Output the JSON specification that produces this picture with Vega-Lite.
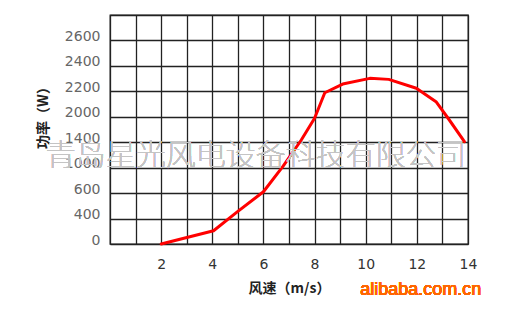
{
  "$schema": "https://vega.github.io/schema/vega-lite/v6.json",
  "width": 358,
  "height": 229,
  "autosize": {"type": "none"},
  "padding": {"left": 110, "top": 15, "right": 39, "bottom": 65},
  "background": "white",
  "config": {
    "view": {"stroke": "#222", "strokeWidth": 1.3},
    "axis": {"grid": true, "gridColor": "#222", "gridOpacity": 1, "gridWidth": 1.3, "domain": false, "ticks": false, "labelOverlap": false, "labelBound": false, "labelFlush": false, "tickCount": 40}
  },
  "data": {"values": [
    {"speed": 2, "power": 0},
    {"speed": 4.05, "power": 209},
    {"speed": 5, "power": 457},
    {"speed": 6, "power": 622},
    {"speed": 6.77, "power": 1024},
    {"speed": 7.48, "power": 1452},
    {"speed": 8.0, "power": 1964},
    {"speed": 8.4, "power": 2189},
    {"speed": 9.1, "power": 2257},
    {"speed": 10.16, "power": 2302},
    {"speed": 10.9, "power": 2294},
    {"speed": 11.98, "power": 2224},
    {"speed": 12.75, "power": 2119},
    {"speed": 13.27, "power": 1924},
    {"speed": 13.86, "power": 1412}
  ]},
  "layer": [
    {
      "mark": {"type": "line", "color": "#ff0000", "strokeWidth": 3, "strokeCap": "round", "strokeJoin": "round"},
      "encoding": {
        "x": {
          "field": "speed", "type": "quantitative",
          "scale": {"domain": [0, 14], "nice": false, "zero": false},
          "axis": {
            "values": [0,1,2,3,4,5,6,7,8,9,10,11,12,13,14],
            "tickCount": 40, "grid": true,
            "labelExpr": "datum.value % 2 == 0 && datum.value > 0 ? '' + datum.value : ''",
            "labelFont": "DejaVu Sans", "labelFontSize": 14, "labelColor": "#333",
            "labelPadding": 13,
            "title": "风速（m/s）",
            "titleFont": "Noto Sans CJK SC", "titleFontSize": 14, "titleFontWeight": "bold", "titleColor": "#222",
            "titlePadding": 10
          }
        },
        "y": {
          "field": "power", "type": "quantitative",
          "scale": {
            "domain": [0, 400, 600, 1000, 1400, 2000, 2200, 2400, 2600, 2800],
            "range": [229, 203.56, 178.11, 152.67, 127.22, 101.78, 76.33, 50.89, 25.44, 0],
            "nice": false, "zero": false
          },
          "axis": {
            "values": [0, 400, 600, 1000, 1400, 2000, 2200, 2400, 2600, 2800],
            "tickCount": 40, "grid": true,
            "labelExpr": "datum.value == 2800 ? '' : datum.value + ''",
            "labelFont": "DejaVu Sans", "labelFontSize": 14, "labelColor": "#666",
            "labelPadding": 10, "labelOffset": -4,
            "title": "功率（W）",
            "titleFont": "Noto Sans CJK SC", "titleFontSize": 14, "titleFontWeight": "bold", "titleColor": "#222",
            "titleX": -67, "titleY": 99, "titleAlign": "center", "titleBaseline": "middle", "titleAngle": -90
          }
        }
      }
    },
    {
      "mark": {"type": "text", "text": "青岛星光风电设备科技有限公司", "font": "Noto Sans CJK SC", "fontSize": 30, "fontWeight": 100, "fill": "#c4c4c4", "align": "center", "baseline": "middle"},
      "encoding": {"x": {"datum": 5.7}, "y": {"datum": 1180}}
    },
    {
      "mark": {"type": "text", "text": "alibaba.com.cn", "font": "Liberation Sans", "fontSize": 18, "fill": "#ff6600", "align": "center", "baseline": "middle"},
      "encoding": {"x": {"datum": 12.15}, "y": {"datum": -723}}
    }
  ]
}
